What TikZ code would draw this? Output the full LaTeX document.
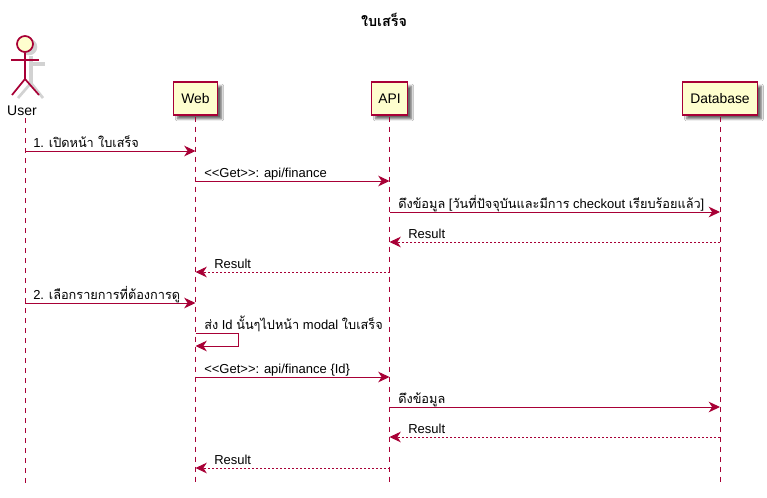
\documentclass[tikz,border=0pt]{standalone}
\usepackage{fontspec}
\setmainfont{Liberation Sans}
\newfontfamily\thaifont[Script=Thai,Scale=0.98]{Loma}
\newcommand{\thaitext}[1]{{\thaifont #1}}
\usetikzlibrary{arrows.meta,positioning,shadows.blur}
\definecolor{seqline}{HTML}{A80036}
\definecolor{seqfill}{HTML}{FEFECE}
\definecolor{seqshadow}{RGB}{210,210,210}
\tikzset{
  seqbox/.style={rectangle, draw=seqline, fill=seqfill, line width=1.1pt, inner sep=0pt, minimum height=24.5pt,
    font=\fontsize{10.4}{12}\selectfont,
    blur shadow={shadow xshift=3pt, shadow yshift=-3pt, shadow blur radius=1.6pt, shadow blur steps=6, shadow opacity=60}},
  lifeline/.style={seqline, line width=0.75pt, dash pattern=on 3.75pt off 3.75pt},
  msg/.style={seqline, line width=0.75pt, -{Stealth[length=8.5pt,width=8pt,inset=2.6pt]}},
  reply/.style={msg, dash pattern=on 1.5pt off 1.5pt},
  msglabel/.style={anchor=base west, inner sep=0pt, font=\fontsize{9.75}{12}\selectfont, text=black}
}
\begin{document}
\begin{tikzpicture}[x=0.75pt, y=-0.75pt]
\useasboundingbox[fill=white] (0,0) rectangle (767,497);

% Title
\node[inner sep=0pt, font=\fontsize{11}{13}\selectfont\bfseries] (title) at (384,20) {\thaitext{ใบเสร็จ}};

% Rows
\foreach \rownum/\rowy in {1/151,2/181,3/212,4/242,5/272,6/303,7/333,8/346,9/377,10/407,11/437,12/468,13/485}
  \coordinate (r\rownum) at (0,\rowy);

% Actor shadow
\draw[seqshadow, line width=3pt] (29,64) -- (45,64) (31,56) -- (31,83);
\draw[seqshadow, line width=2pt] (31,83) -- (43,98) (31,83) -- (18,98);
\fill[seqshadow] (29,47) circle (6.2pt);

% Actor
\node[circle, draw=seqline, fill=seqfill, line width=1.3pt, minimum size=12pt, inner sep=0pt] (user) at (25,44) {};
\node[inner sep=0pt, font=\fontsize{10.5}{12}\selectfont] (userlabel) at (22,111) {User};
\coordinate (userhip) at (25,79);
\draw[seqline, line width=1.3pt] (user.south) -- (userhip);
\draw[seqline, line width=1.3pt] (11,60) -- (39,60);
\draw[seqline, line width=1.3pt] (12,95) -- (userhip) -- (39,95);

% Participants
\node[seqbox, minimum width=33pt] (web) at (195.5,98.5) {Web};
\node[seqbox, minimum width=27pt] (api) at (389.5,98.5) {API};
\node[seqbox, minimum width=56pt] (db) at (720,98.5) {Database};

% Lifelines
\draw[lifeline] (user |- userlabel.south) ++(0,2) -- (user |- r13);
\draw[lifeline] (web.south) ++(0,1) -- (web |- r13);
\draw[lifeline] (api.south) ++(0,1) -- (api |- r13);
\draw[lifeline] (db.south) ++(0,1) -- (db |- r13);

% Messages
\draw[msg] (user |- r1) -- (web |- r1);
\draw[msg] (web |- r2) -- (api |- r2);
\draw[msg] (api |- r3) -- (db |- r3);
\draw[reply] (db |- r4) -- (api |- r4);
\draw[reply] (api |- r5) -- (web |- r5);
\draw[msg] (user |- r6) -- (web |- r6);
\coordinate (selfa) at (238.5,333);
\coordinate (selfb) at (238.5,346);
\draw[msg] (web |- r7) -- (selfa) -- (selfb) -- (web |- r8);
\draw[msg] (web |- r9) -- (api |- r9);
\draw[msg] (api |- r10) -- (db |- r10);
\draw[reply] (db |- r11) -- (api |- r11);
\draw[reply] (api |- r12) -- (web |- r12);

% Labels
\node[msglabel] (m1) at (33,147) {1. \thaitext{เปิดหน้า ใบเสร็จ}};
\node[msglabel] (m2) at (204,177) {<{}<Get>{}>: api/finance};
\node[msglabel] (m3) at (398,208) {\thaitext{ดึงข้อมูล} [\thaitext{วันที่ปัจจุบันและมีการ} checkout \thaitext{เรียบร้อยแล้ว}]};
\node[msglabel] (m4) at (408,238) {Result};
\node[msglabel] (m5) at (214,268) {Result};
\node[msglabel] (m6) at (33,299) {2. \thaitext{เลือกรายการที่ต้องการดู}};
\node[msglabel] (m7) at (204,329) {\thaitext{ส่ง} Id \thaitext{นั้นๆไปหน้า} modal \thaitext{ใบเสร็จ}};
\node[msglabel] (m8) at (204,373) {<{}<Get>{}>: api/finance \{Id\}};
\node[msglabel] (m9) at (398,403) {\thaitext{ดึงข้อมูล}};
\node[msglabel] (m10) at (408,433) {Result};
\node[msglabel] (m11) at (214,464) {Result};
\end{tikzpicture}
\end{document}
